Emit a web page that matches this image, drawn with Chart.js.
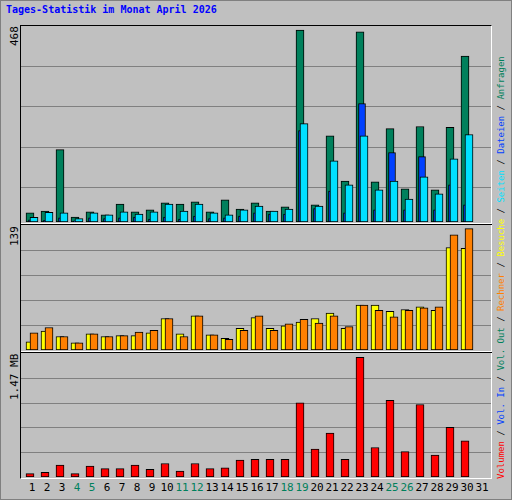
<!DOCTYPE html>
<html><head><meta charset="utf-8">
<script src="https://cdn.jsdelivr.net/npm/chart.js@4.4.0/dist/chart.umd.min.js"></script>
<style>
body{margin:0;background:#fff;}
#wrap{position:relative;width:510px;height:498px;background:#c0c0c0;border:1px solid #808080;overflow:hidden;font-family:"DejaVu Sans Mono",monospace;}
.cv{position:absolute;left:20px;width:470px;}
.t{position:absolute;white-space:nowrap;}
.rot{position:absolute;white-space:nowrap;transform-origin:0 0;transform:rotate(-90deg);}
</style></head><body>
<div id="wrap">
<div class="t" style="left:5px;top:3px;font-size:10px;font-weight:bold;color:#0000ff">Tages-Statistik im Monat April 2026</div>
<div style="position:absolute;left:19px;top:24px;width:470px;height:452px;border-left:1px solid #000;border-top:1px solid #000;border-right:1px solid #fff;border-bottom:1px solid #fff"></div>
<div style="position:absolute;left:20px;top:222px;width:471px;height:1px;background:#fff"></div>
<div style="position:absolute;left:20px;top:223px;width:471px;height:1px;background:#000"></div>
<div style="position:absolute;left:20px;top:350px;width:471px;height:1px;background:#fff"></div>
<div style="position:absolute;left:20px;top:351px;width:471px;height:1px;background:#000"></div>
<canvas id="c1" class="cv" style="top:25px;height:196px" width="470" height="196"></canvas>
<canvas id="c2" class="cv" style="top:224px;height:125px" width="470" height="125"></canvas>
<canvas id="c3" class="cv" style="top:352px;height:124px" width="470" height="124"></canvas>
<div class="rot" style="left:7px;top:45px;font-size:11px">468</div>
<div class="rot" style="left:7px;top:245px;font-size:11px">139</div>
<div class="rot" style="left:7px;top:399px;font-size:11px">1.47 MB</div>
<div id="leg" class="rot" style="left:495px;top:478px;font-size:9px"></div>
<div id="xl"></div>
</div>
<script>
const days=[1,2,3,4,5,6,7,8,9,10,11,12,13,14,15,16,17,18,19,20,21,22,23,24,25,26,27,28,29,30,31];
const weekend=[4,5,11,12,18,19,25,26];
const anfragen=[22,26,173,12,24,17,43,24,29,46,43,48,24,53,31,46,26,36,458,41,206,98,454,96,223,79,228,77,226,396,0];
const dateien=[5,4,10,3,10,8,10,12,7,12,7,14,8,10,14,22,19,19,218,32,74,22,283,29,166,29,156,29,89,41,0];
const seiten=[11,23,22,8,22,17,24,19,24,43,26,43,22,17,29,38,26,31,235,38,146,89,206,77,98,55,108,67,151,209,0];
const besuche=[9,21,15,8,18,15,16,16,19,35,18,38,17,13,24,36,24,27,31,35,41,24,50,50,43,45,48,44,114,113,0];
const rechner=[19,25,15,8,18,15,16,20,22,35,15,38,17,12,22,38,22,29,34,30,38,26,50,44,37,44,47,48,128,135,0];
const volumen=[0.04,0.055,0.14,0.04,0.13,0.10,0.10,0.14,0.09,0.16,0.07,0.16,0.10,0.11,0.20,0.21,0.21,0.21,0.88,0.33,0.52,0.21,1.42,0.35,0.91,0.30,0.86,0.26,0.59,0.43,0];
const yMax=[468,139,1.47];
const grid1=[84,180,276,372], grid2=[27.8,55.6,83.4,111.2], grid3=[0.294,0.588,0.882,1.176];

const gridPlugin={id:'g',beforeDatasetsDraw(ch,a,o){const c=ch.ctx,y=ch.scales.y;c.save();c.strokeStyle='#808080';c.lineWidth=1;
 (ch.options.plugins.g.vals||[]).forEach(v=>{const p=Math.round(y.getPixelForValue(v))+0.5;c.beginPath();c.moveTo(0,p);c.lineTo(ch.width,p);c.stroke();});c.restore();}};
function ds(vals,off,col,w){return{data:days.map((d,i)=>({x:d+off,y:vals[i]})).filter(p=>p.y>0),backgroundColor:col,borderColor:'#000',borderWidth:1,borderSkipped:false,barThickness:w};}
function mk(id,sets,max,g){new Chart(document.getElementById(id),{type:'bar',data:{datasets:sets},plugins:[gridPlugin],
 options:{responsive:false,animation:false,devicePixelRatio:1,grouped:false,layout:{padding:0},
 plugins:{legend:{display:false},tooltip:{enabled:false},g:{vals:g}},
 scales:{x:{type:'linear',display:false,offset:false,min:0.2667,max:31.6,grid:{offset:false}},y:{display:false,min:0,max:max}}}});}
mk('c1',[ds(seiten,0.133,'#00e0ff',8),ds(dateien,0,'#0040ff',7),ds(anfragen,-0.133,'#00805c',8)],yMax[0],grid1);
mk('c2',[ds(rechner,0.133,'#ff8000',8),ds(besuche,-0.133,'#ffff00',8)],yMax[1],grid2);
mk('c3',[ds(volumen,-0.133,'#ff0000',8)],yMax[2],grid3);

const xl=document.getElementById('xl');
days.forEach(d=>{const s=document.createElement('div');s.className='t';s.textContent=d;
 s.style.cssText='left:'+(16+15*d-10)+'px;width:20px;text-align:center;top:480px;font-size:11px;color:'+(weekend.includes(d)?'#00805c':'#000');xl.appendChild(s);});
const legParts=[['Volumen','#ff0000'],['Vol. In','#0040ff'],['Vol. Out','#00805c'],['Rechner','#ff8000'],['Besuche','#ffff00'],['Seiten','#00e0ff'],['Dateien','#0040ff'],['Anfragen','#00805c']];
document.getElementById('leg').innerHTML=legParts.map(p=>'<span style="color:'+p[1]+'">'+p[0]+'</span>').join(' / ');
</script>
</body></html>
